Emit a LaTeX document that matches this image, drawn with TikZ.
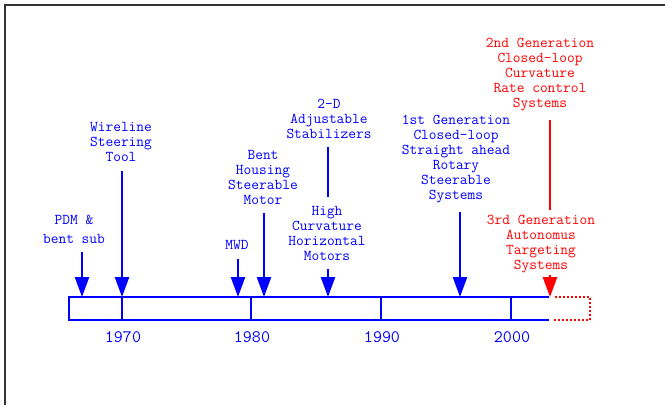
\documentclass[tikz,border=0pt]{standalone}
\usetikzlibrary{arrows.meta}
\tikzset{
    timeline/.style={
        x=1pt, y=-1pt,
        % Stile per le etichette degli eventi
        event/.style={align=center, inner sep=0pt,
                      font=\ttfamily\fontsize{15}{15}\selectfont},
        % Stile per gli anni sotto la barra
        year/.style={inner sep=0pt, text=blue,
                     font=\ttfamily\fontsize{17.5}{18}\selectfont},
        % Stile per le frecce verso la barra
        milestone/.style={line width=2.5pt, shorten <=9pt,
                          -{Triangle[length=20pt, width=14pt]}},
        % Stile per la barra del tempo
        bar/.style={draw=blue, line width=2.5pt},
        % Stile per la cornice
        frame/.style={draw=black!80, line width=1.5pt}
    }
}

\begin{document}
\begin{tikzpicture}[timeline]
    \useasboundingbox (0,0) rectangle (665,405);
    \draw[frame] (665,5) -- (5,5) -- (5,405);

    % barra e anni
    \draw[bar] (549,297) -- (69,297) -- (69,320) -- (549,320);
    \foreach \yr/\x in {1970/123, 1980/252, 1990/382, 2000/512} {
        \coordinate (t\yr) at (\x-1,297);
        \draw[bar] (t\yr) -- ++(0,23);
        \node[year] (l\yr) at (\x,337) {\yr};
    }
    \draw[red, dotted, line width=2pt] (555,297) -- (590,297) -- (590,320) -- (553,320);

    % punte sulla barra
    \coordinate (pdmtip)   at (82,297);
    \coordinate (wirtip)   at (122,297);
    \coordinate (mwdtip)   at (238,297);
    \coordinate (benttip)  at (264,297);
    \coordinate (hightip)  at (328,297);
    \coordinate (firsttip) at (460,297);
    \coordinate (thirdtip) at (550,297);

    % eventi
    \node[event, text=blue] (pdm) at (74,229) {PDM \&\\[4pt]bent sub};
    \node[event, text=blue] (wir) at (121,142) {Wireline\\Steering\\Tool};
    \node[event, text=blue] (mwd) at (237,245) {MWD};
    \node[event, text=blue] (bent) at (263,177) {Bent\\Housing\\Steerable\\Motor};
    \node[event, text=blue] (stab) at (329,119) {2-D\\Adjustable\\Stabilizers};
    \node[event, text=blue] (high) at (327,233) {High\\Curvature\\Horizontal\\Motors};
    \node[event, text=blue] (first) at (456,159) {1st Generation\\Closed-loop\\Straight ahead\\Rotary\\Steerable\\Systems};
    \node[event, text=red] (second) at (540,75) {2nd Generation\\Closed-loop\\Curvature\\Rate control\\Systems};
    \node[event, text=red] (third) at (541,244) {3rd Generation\\Autonomus\\Targeting\\Systems};

    % frecce
    \draw[milestone, blue] (pdm.south -| pdmtip) -- (pdmtip);
    \draw[milestone, blue] (wir.south -| wirtip) -- (wirtip);
    \draw[milestone, blue] (mwd.south -| mwdtip) -- (mwdtip);
    \draw[milestone, blue] (bent.south -| benttip) -- (benttip);
    \draw[blue, line width=2.5pt, shorten <=8pt, shorten >=9pt] (stab.south -| hightip) -- (high.north -| hightip);
    \draw[milestone, blue] (high.south -| hightip) -- (hightip);
    \draw[milestone, blue] (first.south -| firsttip) -- (firsttip);
    \draw[red, line width=2.5pt, shorten <=8pt, shorten >=5pt] (second.south -| thirdtip) -- (third.north -| thirdtip);
    \draw[milestone, red, shorten <=2pt] (third.south -| thirdtip) -- (thirdtip);
\end{tikzpicture}
\end{document}
